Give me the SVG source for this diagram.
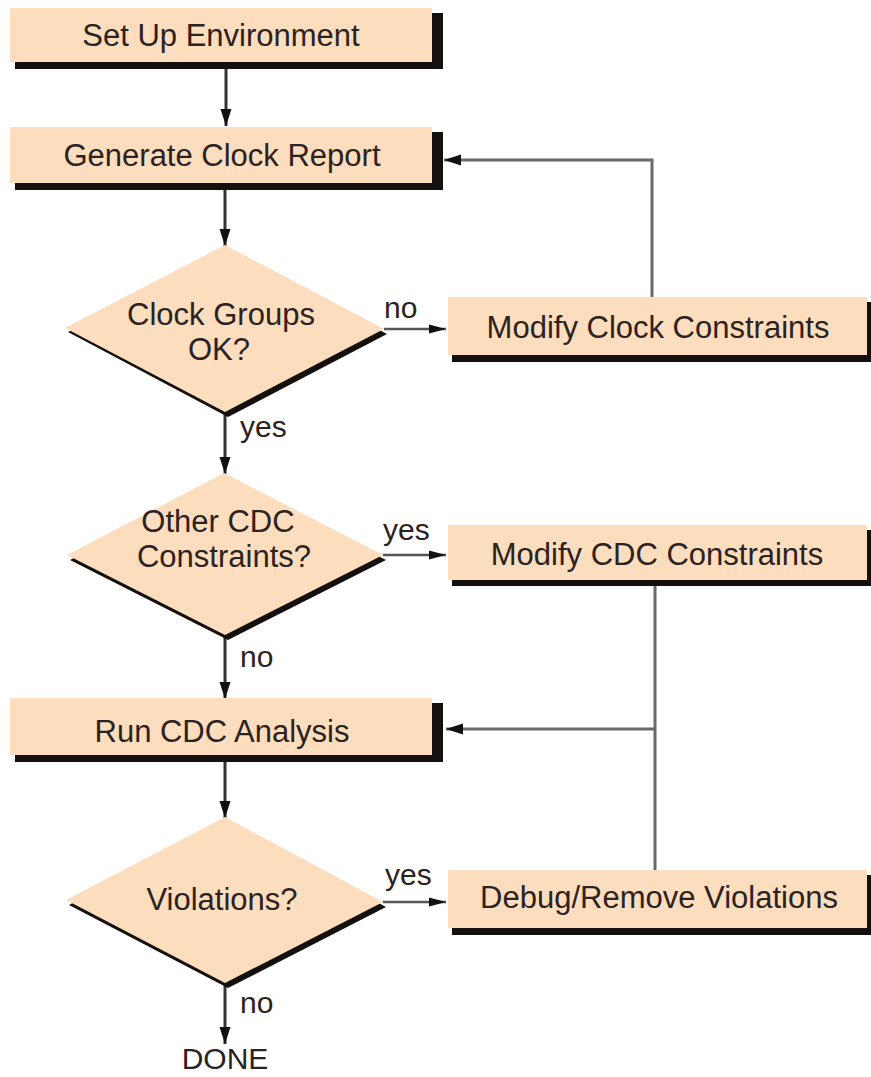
<svg xmlns="http://www.w3.org/2000/svg" width="871" height="1077" viewBox="0 0 871 1077">
<style>
.box{fill:#FCDDBE}
.sh{fill:#141010}
.t{font-family:"Liberation Sans",Arial,sans-serif;font-size:31px;fill:#2b2222;text-anchor:middle}
.lb{font-family:"Liberation Sans",Arial,sans-serif;font-size:30px;fill:#2b2222}
.flow{stroke:#333;stroke-width:3;fill:none}
.dec{stroke:#555;stroke-width:2.5;fill:none}
.fb{stroke:#6a6a6a;stroke-width:3;fill:none}
</style>
<defs>
<marker id="ah" markerUnits="userSpaceOnUse" markerWidth="18" markerHeight="12" refX="17" refY="6" orient="auto">
<path d="M0,0.5 L17,6 L0,11.5 z" fill="#141010"/>
</marker>
<marker id="ahs" markerUnits="userSpaceOnUse" markerWidth="18" markerHeight="10" refX="17" refY="5" orient="auto">
<path d="M0,0.5 L17,5 L0,9.5 z" fill="#141010"/>
</marker>
</defs>
<rect width="871" height="1077" fill="#fff"/>

<g id="connectors">
<line class="flow" x1="226" y1="69" x2="226" y2="126" marker-end="url(#ah)"/>
<line class="flow" x1="225" y1="190" x2="225" y2="246" marker-end="url(#ah)"/>
<line class="flow" x1="225" y1="412" x2="225" y2="474" marker-end="url(#ah)"/>
<line class="flow" x1="225" y1="635" x2="225" y2="699" marker-end="url(#ah)"/>
<line class="flow" x1="225" y1="762" x2="225" y2="818" marker-end="url(#ah)"/>
<line class="flow" x1="225" y1="983" x2="225" y2="1044" marker-end="url(#ah)"/>
<line class="dec" x1="384" y1="329" x2="446" y2="329" marker-end="url(#ahs)"/>
<line class="dec" x1="383" y1="555" x2="446" y2="555" marker-end="url(#ahs)"/>
<line class="dec" x1="383" y1="902" x2="446" y2="902" marker-end="url(#ahs)"/>
<polyline class="fb" points="652,297 652,160 444,160" marker-end="url(#ah)"/>
<line class="fb" x1="655" y1="586" x2="655" y2="870"/>
<line class="fb" x1="655" y1="729" x2="446" y2="729" marker-end="url(#ah)"/>
<text class="lb" x="384" y="318">no</text>
<text class="lb" x="240" y="437">yes</text>
<text class="lb" x="383" y="540">yes</text>
<text class="lb" x="240" y="667">no</text>
<text class="lb" x="385" y="885">yes</text>
<text class="lb" x="240" y="1013">no</text>
</g>

<g id="setup">
<rect class="sh" x="15" y="13" width="428" height="56"/>
<rect class="box" x="10" y="8" width="422" height="54"/>
<text class="t" x="221" y="46">Set Up Environment</text>
</g>
<g id="genclock">
<rect class="sh" x="15" y="132" width="428" height="58"/>
<rect class="box" x="10" y="127" width="422" height="56"/>
<text class="t" x="222" y="166">Generate Clock Report</text>
</g>
<g id="clockok">
<polygon class="sh" points="228,250 387,334 228,417 68,332"/>
<polygon class="box" points="225,245 384,329 225,412 65,328"/>
<text class="t" x="221" y="325">Clock Groups</text>
<text class="t" x="219" y="360">OK?</text>
</g>
<g id="modclock">
<rect class="sh" x="452" y="302" width="425" height="60"/>
<rect class="box" x="448" y="297" width="419" height="58"/>
<text class="t" x="658" y="338">Modify Clock Constraints</text>
</g>
<g id="othercdc">
<polygon class="sh" points="227,478 386,560 228,640 70,560"/>
<polygon class="box" points="224,473 383,555 225,635 67,555"/>
<text class="t" x="218" y="532">Other CDC</text>
<text class="t" x="224" y="567">Constraints?</text>
</g>
<g id="modcdc">
<rect class="sh" x="452" y="530" width="425" height="56"/>
<rect class="box" x="448" y="525" width="419" height="55"/>
<text class="t" x="657" y="565">Modify CDC Constraints</text>
</g>
<g id="runcdc">
<rect class="sh" x="15" y="703" width="428" height="59"/>
<rect class="box" x="10" y="698" width="422" height="57"/>
<text class="t" x="222" y="742">Run CDC Analysis</text>
</g>
<g id="violations">
<polygon class="sh" points="228,822 386,907 228,988 69,905"/>
<polygon class="box" points="225,817 383,902 225,983 66,900"/>
<text class="t" x="222" y="910">Violations?</text>
</g>
<g id="debug">
<rect class="sh" x="452" y="875" width="425" height="60"/>
<rect class="box" x="448" y="870" width="419" height="58"/>
<text class="t" x="659" y="908">Debug/Remove Violations</text>
</g>
<g id="done">
<text class="t" x="225" y="1069" style="font-size:30px">DONE</text>
</g>
</svg>
